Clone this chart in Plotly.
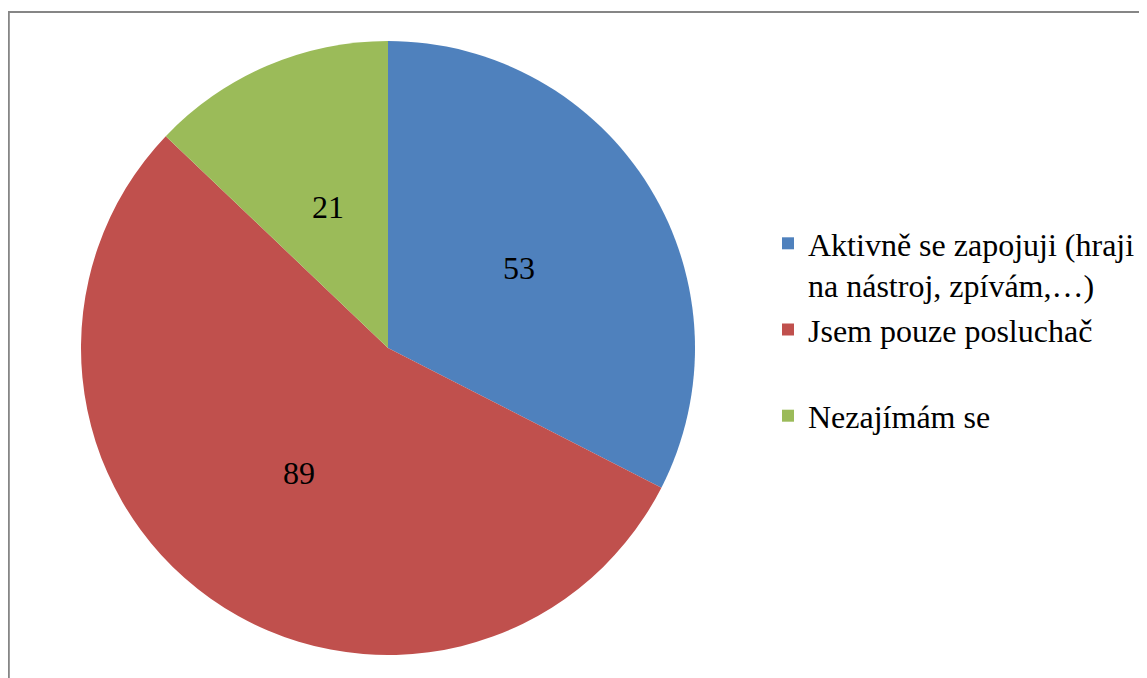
import math
import plotly.graph_objects as go

categories = ["Aktivně se zapojuji (hraji na nástroj, zpívám,…)", "Jsem pouze posluchač", "Nezajímám se"]
values = [53, 89, 21]
colors = ["#4F81BD", "#C0504D", "#9BBB59"]

legend_labels = [
    "Aktivně se zapojuji (hraji<br>na nástroj, zpívám,…)",
    "Jsem pouze posluchač<br> ",
    "Nezajímám se",
]

FONT = "Liberation Serif"
W, H = 1147, 678
# page is offset by the browser's 8px body margin
OFF = 8
cx_px, cy_px, r_px = 388 - OFF, 348 - OFF, 307

fig = go.Figure(go.Pie(
    labels=legend_labels,
    values=values,
    textinfo="none",
    sort=False,
    direction="clockwise",
    rotation=0,
    marker=dict(colors=colors, line=dict(width=0)),
    domain=dict(x=[(cx_px - r_px) / W, (cx_px + r_px) / W],
                y=[(H - cy_px - r_px) / H, (H - cy_px + r_px) / H]),
    hovertext=categories,
    hoverinfo="text+value",
))

# value labels at half radius along each slice's mid angle
total = sum(values)
annotations = []
cum = 0
for v in values:
    mid = (cum + v / 2) / total * 2 * math.pi
    cum += v
    x = cx_px + 0.5 * r_px * math.sin(mid)
    y = cy_px - 0.5 * r_px * math.cos(mid)
    annotations.append(dict(
        x=x / W, y=1 - y / H, xref="paper", yref="paper",
        text=str(v), showarrow=False, xanchor="center", yanchor="middle",
        font=dict(family=FONT, size=32, color="black"),
    ))

fig.update_layout(
    width=W, height=H,
    margin=dict(l=0, r=0, t=0, b=0),
    paper_bgcolor="white",
    plot_bgcolor="white",
    showlegend=True,
    legend=dict(
        x=(768 - OFF) / W, y=(H - (216 - OFF)) / H, xanchor="left", yanchor="top",
        font=dict(family=FONT, size=32, color="black"),
        valign="top", itemwidth=30, tracegroupgap=0,
        bgcolor="rgba(0,0,0,0)",
    ),
    annotations=annotations,
    shapes=[dict(
        type="rect", xref="paper", yref="paper",
        x0=0.8 / W, x1=1.05, y0=-0.05, y1=(H - (12 - OFF)) / H,
        line=dict(color="#868686", width=2), fillcolor="rgba(0,0,0,0)", layer="below",
    )],
)

fig.write_html("out.html")
